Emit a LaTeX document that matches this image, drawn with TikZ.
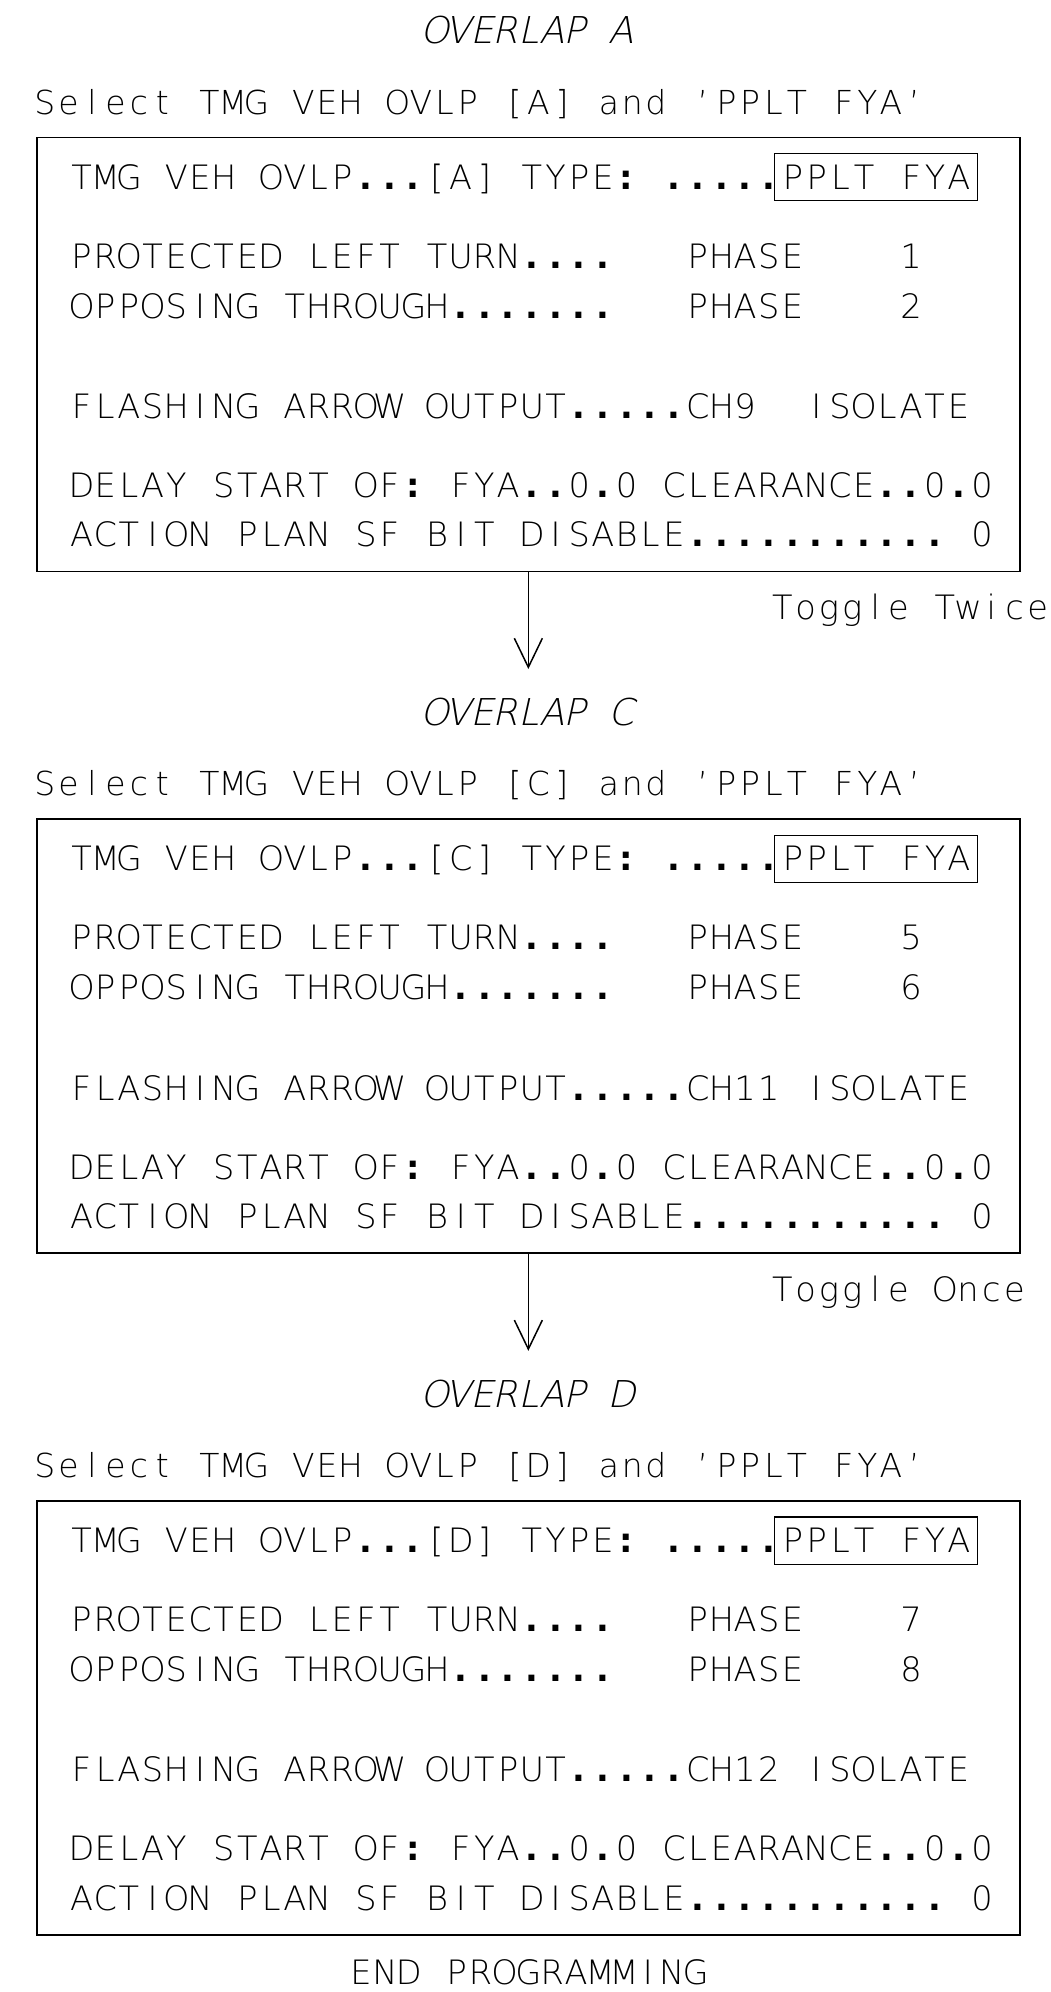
\documentclass[tikz,border=0pt]{standalone}
\usepackage{fontspec}
\setmainfont{DejaVu Sans ExtraLight}
\newfontfamily\caditfont{DejaVu Sans ExtraLight}[FakeSlant=0.22]
\newfontfamily\caddotfont{DejaVu Sans Bold}
\usetikzlibrary{arrows.meta}
\newlength\cadp
\setlength\cadp{23.7pt}
\ExplSyntaxOn
\NewDocumentCommand\cadchar{m}{ \str_case:nnF {#1} { {.}{{\caddotfont .}} {:}{{\caddotfont :}} } {#1} }
\NewDocumentCommand\cad{m}{ \tl_map_inline:nn {#1} { \makebox[\cadp][c]{\cadchar{##1}} } }
\ExplSyntaxOff
\newcommand\rowf{\fontsize{33.6}{40}\selectfont\setlength\cadp{23.7pt}}
\newcommand\self{\fontsize{33}{40}\selectfont\setlength\cadp{23.5pt}}
\newcommand\titf{\caditfont\fontsize{37}{44}\selectfont\setlength\cadp{23.3pt}}
\newcommand\togf{\fontsize{33.6}{40}\selectfont\setlength\cadp{23.2pt}}
\newcommand\finf{\fontsize{33.6}{40}\selectfont\setlength\cadp{23.9pt}}
\newcommand\ovsec[5]{%
  \node[titl] (t#2) at (528.4,#1-94) {\cad{OVERLAP~#2}};
  \node[sel] (s#2) at (33,#1-23.5) {\cad{Select~TMG~VEH~OVLP~[#2]~and~’PPLT~FYA’}};
  \node[frame] (box#2) at (36.7,#1) {};
  \node[row] (ra#2) at (69.5,#1+51.5) {\cad{TMG~VEH~OVLP...[#2]~TYPE:~.....}};
  \node[pplt] (pp#2) at (774,#1+51.5) {\cad{PPLT~FYA}};
  \node[row] (rb#2) at (69.5,#1+130.5) {\cad{PROTECTED~LEFT~TURN....~~~PHASE~~~~#3}};
  \node[row] (rc#2) at (69.5,#1+180.5) {\cad{OPPOSING~THROUGH.......~~~PHASE~~~~#4}};
  \node[row] (rd#2) at (69.5,#1+280.8) {\cad{FLASHING~ARROW~OUTPUT.....#5}};
  \node[row] (re#2) at (69.5,#1+359.8) {\cad{DELAY~START~OF:~FYA..0.0~CLEARANCE..0.0}};
  \node[row] (rf#2) at (69.5,#1+409.2) {\cad{ACTION~PLAN~SF~BIT~DISABLE...........~0}};
}
\begin{document}
\begin{tikzpicture}[x=1pt,y=-1pt,
  titl/.style={anchor=base, inner sep=0pt, font=\titf},
  sel/.style={anchor=base west, inner sep=0pt, font=\self},
  row/.style={anchor=base west, inner sep=0pt, font=\rowf},
  tog/.style={anchor=base west, inner sep=0pt, font=\togf},
  endp/.style={anchor=base, inner sep=0pt, font=\finf},
  frame/.style={draw, line width=1.7pt, anchor=north west, inner sep=0pt, outer sep=0pt,
    minimum width=983.3pt, minimum height=434pt},
  pplt/.style={draw, line width=1.4pt, anchor=base west, inner xsep=6.5pt, inner ysep=0pt,
    text height=35.5pt, text depth=11.7pt, font=\rowf},
  arr/.style={line width=1.5pt, -{Straight Barb[length=29pt,width=28pt,line width=1.5pt]}}]
\useasboundingbox (0,0) rectangle (1051,1992);
\fill[white] (0,0) rectangle (1051,1992);
\ovsec{137.5}{A}{1}{2}{CH9~~ISOLATE}
\ovsec{819.3}{C}{5}{6}{CH11~ISOLATE}
\ovsec{1501.1}{D}{7}{8}{CH12~ISOLATE}
\node[tog] (togA) at (770.7,619) {\cad{Toggle~Twice}};
\node[tog] (togC) at (770.7,1301) {\cad{Toggle~Once}};
\node[endp] (endp) at (528.4,1984) {\cad{END~PROGRAMMING}};
\coordinate (tipA) at ([yshift=-97.5pt]boxA.south);
\coordinate (tipC) at ([yshift=-97.5pt]boxC.south);
\draw[arr] (boxA.south) -- (tipA);
\draw[arr] (boxC.south) -- (tipC);
\end{tikzpicture}
\end{document}
